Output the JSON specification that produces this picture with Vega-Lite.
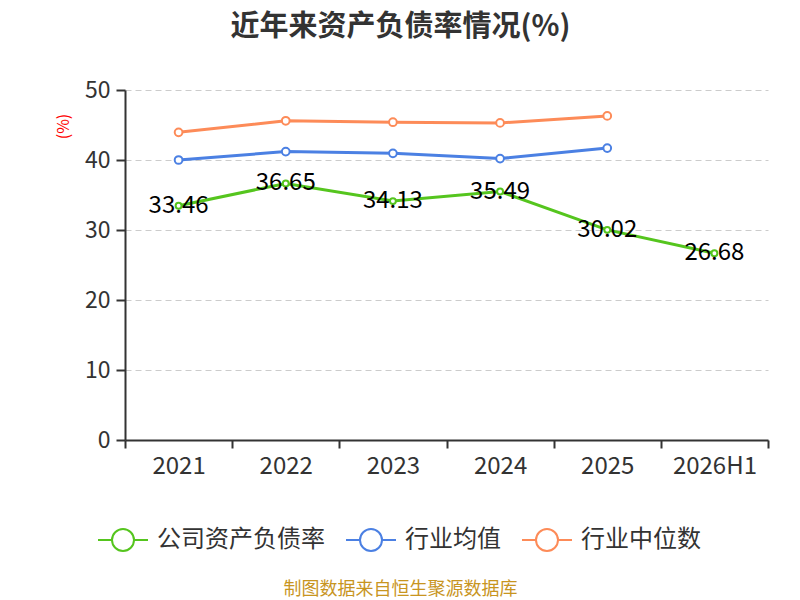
{
  "$schema": "https://vega.github.io/schema/vega-lite/v6.json",
  "width": 643,
  "height": 350,
  "autosize": {"type": "none"},
  "padding": {"left": 125, "top": 90, "right": 32, "bottom": 160},
  "background": "white",
  "config": {"font": "Noto Sans CJK SC", "view": {"stroke": null}},
  "title": {
    "text": "近年来资产负债率情况(%)",
    "fontSize": 29,
    "fontWeight": "bold",
    "color": "#333333",
    "anchor": "middle",
    "dx": -46,
    "offset": 37
  },
  "data": {
    "values": [
      {"year": "2021", "series": "公司资产负债率", "value": 33.46},
      {"year": "2022", "series": "公司资产负债率", "value": 36.65},
      {"year": "2023", "series": "公司资产负债率", "value": 34.13},
      {"year": "2024", "series": "公司资产负债率", "value": 35.49},
      {"year": "2025", "series": "公司资产负债率", "value": 30.02},
      {"year": "2026H1", "series": "公司资产负债率", "value": 26.68},
      {"year": "2021", "series": "行业均值", "value": 40.0},
      {"year": "2022", "series": "行业均值", "value": 41.2},
      {"year": "2023", "series": "行业均值", "value": 40.95},
      {"year": "2024", "series": "行业均值", "value": 40.2},
      {"year": "2025", "series": "行业均值", "value": 41.7},
      {"year": "2021", "series": "行业中位数", "value": 43.95},
      {"year": "2022", "series": "行业中位数", "value": 45.6},
      {"year": "2023", "series": "行业中位数", "value": 45.4},
      {"year": "2024", "series": "行业中位数", "value": 45.3},
      {"year": "2025", "series": "行业中位数", "value": 46.3}
    ]
  },
  "encoding": {
    "x": {
      "field": "year",
      "type": "ordinal",
      "sort": null,
      "scale": {"type": "band", "paddingInner": 0, "paddingOuter": 0},
      "axis": {
        "title": "制图数据来自恒生聚源数据库",
        "titleX": 275,
        "titleY": 149,
        "titleBaseline": "middle",
        "titleColor": "#c8951f",
        "titleFontSize": 18,
        "titleFontWeight": "normal",
        "labelAngle": 0,
        "labelFontSize": 24,
        "labelColor": "#333333",
        "labelPadding": 6,
        "tickBand": "extent",
        "tickSize": 8,
        "tickColor": "#333333",
        "tickWidth": 2,
        "domainColor": "#333333",
        "domainWidth": 2
      }
    },
    "y": {
      "field": "value",
      "type": "quantitative",
      "scale": {"domain": [0, 50]},
      "axis": {
        "values": [0, 10, 20, 30, 40, 50],
        "title": "(%)",
        "titleColor": "red",
        "titleFontSize": 16,
        "titleFontWeight": "normal",
        "titleX": -62,
        "titleY": 36,
        "titleAlign": "center",
        "titleBaseline": "middle",
        "labelFontSize": 23,
        "labelColor": "#333333",
        "labelPadding": 6,
        "tickSize": 9,
        "tickColor": "#333333",
        "tickWidth": 2,
        "domainColor": "#333333",
        "domainWidth": 2,
        "gridColor": "#cccccc",
        "gridDash": [6, 4],
        "gridWidth": 1
      }
    }
  },
  "layer": [
    {
      "mark": {"type": "line", "strokeWidth": 3},
      "encoding": {
        "color": {
          "field": "series",
          "type": "nominal",
          "scale": {
            "domain": ["公司资产负债率", "行业均值", "行业中位数"],
            "range": ["#55c51e", "#4b80e3", "#fd8b58"]
          },
          "legend": {
            "orient": "none",
            "legendX": -28,
            "legendY": 424,
            "direction": "horizontal",
            "title": null,
            "symbolType": "M-1,0L-0.44,0M0.44,0L1,0M-0.44,0A0.44,0.44,0,1,1,0.44,0A0.44,0.44,0,1,1,-0.44,0Z",
            "symbolSize": 2500,
            "symbolStrokeWidth": 2,
            "symbolFillColor": "white",
            "labelFontSize": 24,
            "labelLimit": 400,
            "labelColor": "#333333",
            "labelOffset": 8,
            "columnPadding": 17
          }
        }
      }
    },
    {
      "mark": {"type": "point", "filled": false, "fill": "white", "strokeWidth": 2, "opacity": 1},
      "encoding": {
        "color": {"field": "series", "type": "nominal", "legend": null},
        "size": {
          "condition": {"test": "datum.series === '公司资产负债率'", "value": 35},
          "value": 60
        }
      }
    },
    {
      "transform": [{"filter": "datum.series === '公司资产负债率'"}],
      "mark": {"type": "text", "fontSize": 24, "color": "black", "align": "center", "baseline": "middle", "font": "Noto Sans CJK SC"},
      "encoding": {
        "text": {"field": "value", "type": "quantitative", "format": ".2f"}
      }
    }
  ]
}
